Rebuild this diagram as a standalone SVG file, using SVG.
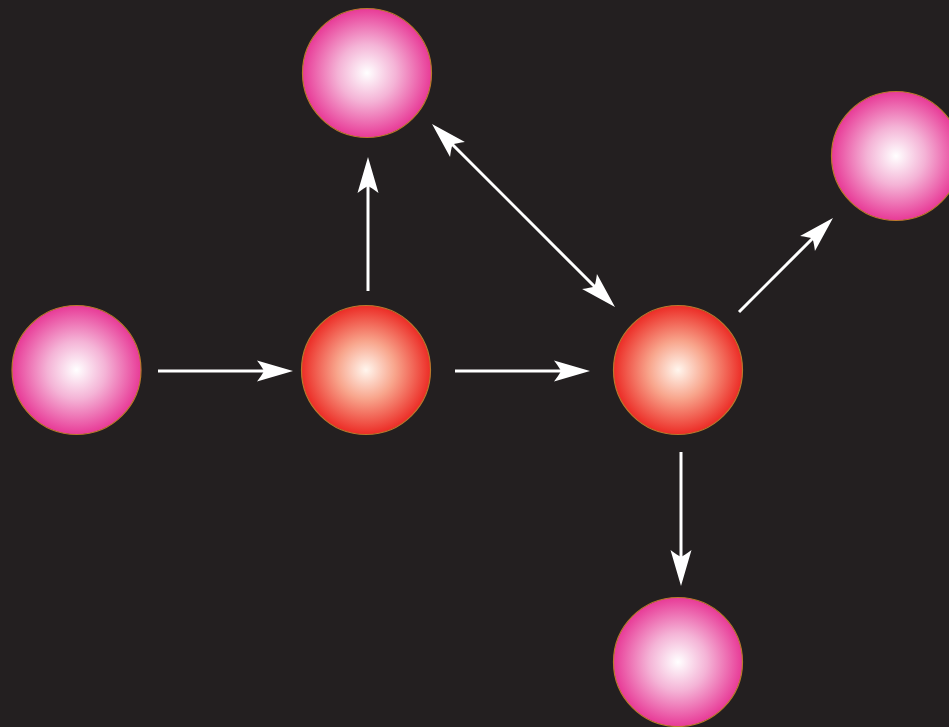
<svg xmlns="http://www.w3.org/2000/svg" width="949" height="727" viewBox="0 0 949 727">
<defs>
<radialGradient id="pink" cx="0.5" cy="0.5" r="0.5">
<stop offset="0" stop-color="#ffffff"/>
<stop offset="0.45" stop-color="#f4b3d6"/>
<stop offset="1" stop-color="#e83a97"/>
</radialGradient>
<radialGradient id="red" cx="0.5" cy="0.5" r="0.5">
<stop offset="0" stop-color="#fff6ee"/>
<stop offset="0.45" stop-color="#f8a58c"/>
<stop offset="1" stop-color="#ec2c26"/>
</radialGradient>
<marker id="ah" markerUnits="userSpaceOnUse" viewBox="-37 -12 38 24" refX="-25" refY="0" markerWidth="38" markerHeight="24" orient="auto-start-reverse">
<path d="M0,0 L-36,-10.5 Q-31,-4 -29,0 Q-31,4 -36,10.5 Z" fill="#ffffff"/>
</marker>
<style>
.pink{fill:url(#pink);stroke:#b9782c;stroke-width:1.2}
.red{fill:url(#red);stroke:#b9782c;stroke-width:1.2}
.conn line{stroke:#ffffff;stroke-width:3;fill:none}
</style>
</defs>
<rect width="949" height="727" fill="#231f20"/>
<g id="n-left"><circle class="pink" cx="76.5" cy="370" r="64.5"/></g>
<g id="n-mid"><circle class="red" cx="366" cy="370" r="64.5"/></g>
<g id="n-top"><circle class="pink" cx="367" cy="73" r="64.5"/></g>
<g id="n-right"><circle class="red" cx="678" cy="370" r="64.5"/></g>
<g id="n-topright"><circle class="pink" cx="896" cy="156" r="64.5"/></g>
<g id="n-bottom"><circle class="pink" cx="678" cy="662" r="64.5"/></g>
<g id="connectors" class="conn">
<line x1="158" y1="371" x2="268" y2="371" marker-end="url(#ah)"/>
<line x1="368" y1="291" x2="368" y2="182" marker-end="url(#ah)"/>
<line x1="455" y1="371" x2="565" y2="371" marker-end="url(#ah)"/>
<line x1="449.7" y1="141.7" x2="597.3" y2="289.3" marker-start="url(#ah)" marker-end="url(#ah)"/>
<line x1="739" y1="312" x2="815.3" y2="235.7" marker-end="url(#ah)"/>
<line x1="681" y1="452" x2="681" y2="561" marker-end="url(#ah)"/>
</g>
</svg>
